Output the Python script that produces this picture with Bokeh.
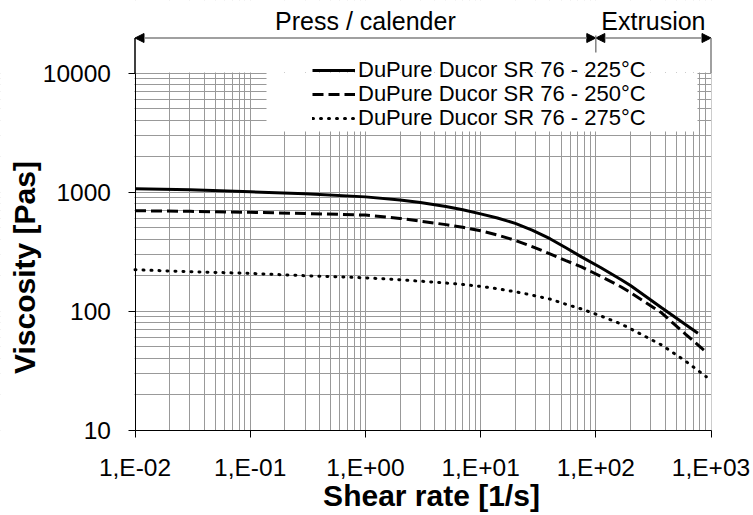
import numpy as np
from bokeh.plotting import figure
from bokeh.models import (FixedTicker, Legend, LegendItem, BoxAnnotation, Arrow,
                          NormalHead, Label, Range1d)
from bokeh.embed import file_html
from bokeh.resources import INLINE

# ---------------- data ----------------
shear_225 = [0.01, 0.03, 0.1, 0.3, 1, 2, 3, 5, 7, 10, 14, 20, 28, 40, 55, 75,
             110, 165, 200, 370, 600, 770]
visc_225 = [1066, 1045, 1005, 965, 910, 858, 815, 755, 710, 655, 605, 545, 478, 405,
            340, 285, 232, 184, 164, 107, 77, 65]

shear_250 = [0.01, 0.03, 0.1, 0.3, 1, 2, 3, 5, 7, 10, 14, 20, 28, 40, 55, 75,
             110, 165, 200, 370, 600, 910]
visc_250 = [696, 688, 675, 660, 640, 600, 568, 532, 505, 472, 435, 392, 348, 302,
            265, 235, 196, 160, 143, 97, 64, 45]

shear_275 = [0.01, 0.03, 0.1, 0.3, 1, 2, 3, 5, 7, 10, 14, 20, 28, 40, 55, 75,
             110, 165, 200, 370, 600, 910]
visc_275 = [222, 214, 207, 198, 190, 183, 178, 172, 167, 161, 154, 145, 136, 126,
            114, 104, 91, 78, 71, 52, 38, 28]

series_labels = ["DuPure Ducor SR 76 - 225°C",
                 "DuPure Ducor SR 76 - 250°C",
                 "DuPure Ducor SR 76 - 275°C"]

x_ticks = [0.01, 0.1, 1, 10, 100, 1000]
x_tick_labels = ["1,E-02", "1,E-01", "1,E+00", "1,E+01", "1,E+02", "1,E+03"]
y_ticks = [10, 100, 1000, 10000]
y_tick_labels = ["10", "100", "1000", "10000"]

region_bounds = [0.01, 100, 1000]
region_labels = ["Press / calender", "Extrusion"]

x_title = "Shear rate [1/s]"
y_title = "Viscosity [Pas]"

# ---------------- layout (canvas pixels) ----------------
W, H = 753, 515
X0_PX, X1_PX = 134.5, 710.5          # x = first / last x tick
Y0_PX, Y1_PX = 429.5, 72.5           # y = first / last y tick
PPD_X = (X1_PX - X0_PX) / np.log10(x_ticks[-1] / x_ticks[0])
PPD_Y = (Y0_PX - Y1_PX) / np.log10(y_ticks[-1] / y_ticks[0])
FONT = "Liberation Sans"
GRID = "#999999"


def x_at(px):
    return x_ticks[0] * 10 ** ((px - X0_PX) / PPD_X)


def y_at(py):
    return y_ticks[0] * 10 ** ((Y0_PX - py) / PPD_Y)


p = figure(width=W, height=H, x_axis_type="log", y_axis_type="log",
           x_range=Range1d(x_at(0), x_at(W)), y_range=Range1d(y_at(H), y_at(0)),
           output_backend="svg", toolbar_location=None,
           min_border=0, min_border_left=0, min_border_right=0,
           min_border_top=0, min_border_bottom=0)
p.outline_line_color = None
p.background_fill_color = "white"
p.border_fill_color = "white"


def minor_of(ticks):
    out = []
    for t in ticks[:-1]:
        out += [m * t for m in range(2, 10)]
    return out


p.xaxis.ticker = FixedTicker(ticks=x_ticks, minor_ticks=minor_of(x_ticks))
p.yaxis.ticker = FixedTicker(ticks=y_ticks, minor_ticks=minor_of(y_ticks))
p.xaxis.major_label_overrides = dict(zip(x_ticks, x_tick_labels))
p.yaxis.major_label_overrides = dict(zip(y_ticks, y_tick_labels))
p.xaxis.fixed_location = y_ticks[0]
p.yaxis.fixed_location = x_ticks[0]
p.xaxis.bounds = (x_ticks[0], x_ticks[-1])
p.yaxis.bounds = (y_ticks[0], y_ticks[-1])

for ax in (p.xaxis[0], p.yaxis[0]):
    ax.axis_line_color = "black"
    ax.axis_line_width = 1
    ax.major_tick_line_color = "black"
    ax.major_tick_out = 7
    ax.major_tick_in = 0
    ax.minor_tick_out = 0
    ax.minor_tick_in = 0
    ax.major_label_text_font = FONT
    ax.major_label_text_font_size = "24.5px"
    ax.major_label_text_color = "black"
    ax.major_label_standoff = 17

for g in (p.xgrid[0], p.ygrid[0]):
    g.grid_line_color = GRID
    g.grid_line_width = 1
    g.minor_grid_line_color = GRID
    g.minor_grid_line_width = 1

# white areas around the plot area and behind the legend (hide the grid there)
covers = [dict(bottom=y_at(Y1_PX - 0.5), top=y_at(-20)),
          dict(top=y_at(Y0_PX + 0.5), bottom=y_at(H + 20)),
          dict(right=x_at(X0_PX - 0.5), left=x_at(-20)),
          dict(left=x_at(X1_PX + 0.5), right=x_at(W + 20)),
          dict(left=x_at(266), right=x_at(697), bottom=y_at(131), top=y_at(Y1_PX))]
for c in covers:
    p.add_layout(BoxAnnotation(fill_color="white", fill_alpha=1, line_alpha=0,
                               level="underlay", **c))

r1 = p.line(shear_225, visc_225, line_color="black", line_width=3)
r2 = p.line(shear_250, visc_250, line_color="black", line_width=3, line_dash="11 5")
r3 = p.line(shear_275, visc_275, line_color="black", line_width=3, line_dash="1 7",
            line_cap="round")

# one legend per row so rows can sit as tightly as in the reference
ITEM_H = 24
row_centers = [71, 95, 119]
for rend, lab, cy in zip([r1, r2, r3], series_labels, row_centers):
    p.add_layout(Legend(items=[LegendItem(label=lab, renderers=[rend])],
                        location=(312, H - cy - ITEM_H / 2), padding=0, margin=0,
                        glyph_width=43, glyph_height=ITEM_H, label_height=ITEM_H,
                        label_standoff=3, label_text_font=FONT,
                        label_text_font_size="22px", label_text_color="black",
                        background_fill_alpha=0, border_line_alpha=0), "center")

# region arrows above the plot
y_arrow = y_at(37.5)


def head():
    return NormalHead(size=9, fill_color="black", line_color="black", line_width=1)


for i in range(len(region_labels)):
    a, b = region_bounds[i], region_bounds[i + 1]
    p.add_layout(Arrow(x_start=a, y_start=y_arrow, x_end=b, y_end=y_arrow,
                       start=head(), end=head(), line_color="#808080", line_width=1.5))
    p.add_layout(Label(x=np.sqrt(a * b), y=y_at(20.5), text=region_labels[i],
                       text_align="center", text_baseline="middle",
                       text_font=FONT, text_font_size="25px", text_color="black"))

p.add_layout(Arrow(x_start=region_bounds[0], y_start=y_ticks[-1], x_end=region_bounds[0],
                   y_end=y_arrow, end=None, line_color="black", line_width=1.5))
p.add_layout(Arrow(x_start=region_bounds[-1], y_start=y_ticks[-1],
                   x_end=region_bounds[-1], y_end=y_arrow, end=None,
                   line_color="#808080", line_width=1.5))
p.add_layout(Arrow(x_start=region_bounds[1], y_start=y_at(52), x_end=region_bounds[1],
                   y_end=y_at(35), end=None, line_color="#808080", line_width=1.5))

# axis titles
p.add_layout(Label(x=x_at(431), y=y_at(495), text=x_title, text_align="center",
                   text_baseline="middle", text_font=FONT, text_font_size="30px",
                   text_font_style="bold", text_color="black"))
p.add_layout(Label(x=x_at(24), y=y_at(267), text=y_title, angle=np.pi / 2,
                   text_align="center", text_baseline="middle", text_font=FONT,
                   text_font_size="30px", text_font_style="bold", text_color="black"))

open("out.html", "w").write(file_html(p, INLINE))
